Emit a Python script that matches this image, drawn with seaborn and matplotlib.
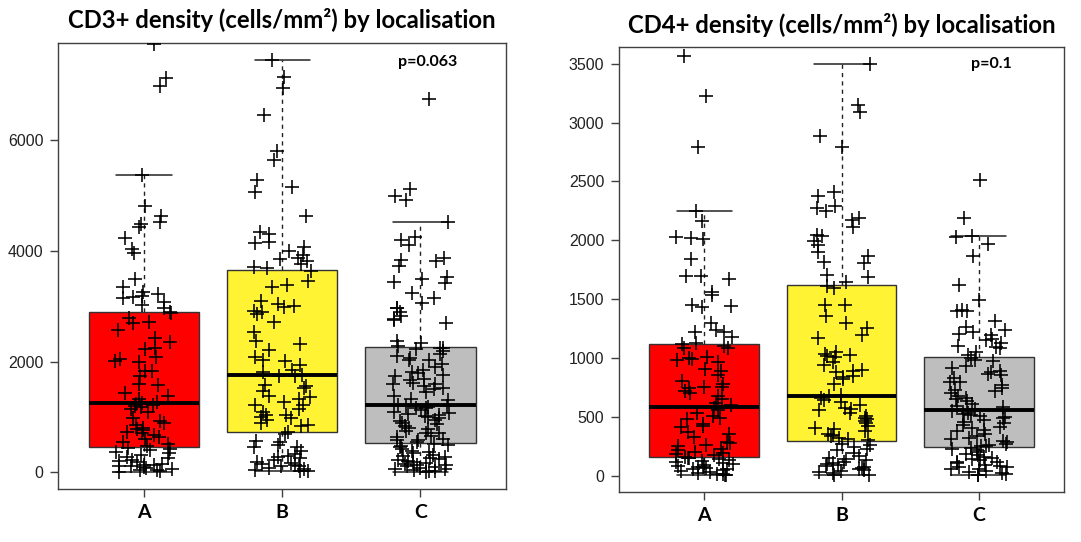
import numpy as np
import pandas as pd
import matplotlib
matplotlib.use("Agg")
import matplotlib.pyplot as plt
import seaborn as sns
from matplotlib import font_manager as fm

# ---------------- data ----------------
categories = ["A", "B", "C"]
box_colors = ["#FF0000", "#FFF333", "#BEBEBE"]

cd3_A = [15, 23, 40, 52, 65, 81, 99, 110, 122, 130, 139, 157, 180, 200, 226, 255, 285, 310, 343, 372, 400, 420, 445,
         470, 505, 546, 600, 633, 680, 703, 737, 761, 778, 807, 850, 894, 923, 981, 1086, 1150, 1184, 1202, 1213, 1230, 1255,
         1265, 1330, 1376, 1434, 1573, 1591, 1736, 1823, 1823, 1997, 2009, 2055, 2084, 2230, 2247, 2346, 2433, 2578, 2694, 2723, 2781, 2868,
         2900, 2960, 3013, 3080, 3141, 3170, 3187, 3216, 3250, 3350, 3489, 3954, 4029, 4233, 4436, 4476, 4511, 4627, 4813, 5371, 6973, 7124, 7740]
cd3_B = [21, 30, 39, 62, 78, 107, 120, 136, 150, 165, 194, 223, 252, 281, 300, 339, 385, 455, 466, 501, 541, 570, 700,
         730, 831, 860, 889, 947, 988, 1005, 1034, 1034, 1092, 1150, 1208, 1208, 1266, 1324, 1353, 1370, 1469, 1527, 1556, 1585, 1740, 1745,
         1759, 1817, 1846, 1933, 2003, 2020, 2078, 2206, 2310, 2368, 2542, 2716, 2861, 2890, 2919, 2977, 3006, 3035, 3093, 3342, 3383, 3458,
         3632, 3690, 3702, 3760, 3818, 3850, 3865, 3923, 3992, 4061, 4137, 4154, 4300, 4339, 4628, 5063, 5150, 5277, 5642, 5799, 6448, 6946, 7132, 7445]
cd3_C = [507, 472, 431, 391, 345, 298, 275, 240, 217, 183, 159, 142, 113, 84, 67, 44, 27, 9,
         20, 55, 95, 130, 170, 200, 260, 320, 370, 450, 500,
         1200, 1166, 1154, 1096, 1067, 1027, 992, 951, 893, 807, 749, 703, 634, 605, 576,
         550, 590, 660, 720, 780, 840, 870, 920, 980, 1010, 1050, 1120, 1180, 1200,
         2241, 2224, 2195, 2137, 2108, 2021, 2021, 1894, 1848, 1790, 1761, 1732, 1686, 1674, 1588, 1588, 1559, 1530, 1455, 1328, 1299,
         1225, 1380, 1500, 1620, 1820, 1950, 2060, 2250,
         6735, 5116, 4983, 4925, 4526, 4249, 4191, 4104, 3873, 3826, 3815, 3728, 3526, 3497, 3439, 3410, 3236, 3149, 3063,
         2976, 2976, 2901, 2820, 2762, 2745, 2704, 2369, 2340, 2282]

cd4_A = [156, 142, 134, 124, 115, 102, 88, 80, 69, 61, 48, 34, 26, 15, 7, 5, 20, 40, 55, 75, 95, 110, 150,
         576, 535, 494, 481, 440, 413, 373, 359, 332, 292, 264, 250, 232, 216, 197, 189, 178, 160, 200, 280, 420, 510, 560,
         1118, 1104, 1083, 1083, 1010, 996, 969, 982, 909, 893, 861, 807, 780, 747, 753, 758, 725, 676, 657, 617, 600, 700, 1000,
         3565, 3227, 2790, 2248, 2161, 2018, 2026, 2012, 1842, 1701, 1674, 1701, 1538, 1560, 1452, 1435, 1443, 1226, 1240, 1226, 1131, 1180, 1300]
cd4_B = [275, 248, 221, 194, 153, 131, 120, 104, 93, 77, 58, 39, 22, 11, 5, 30, 50, 70, 85, 110, 140, 170, 230, 260,
         675, 648, 629, 575, 567, 561, 533, 506, 493, 485, 452, 425, 411, 384, 357, 338, 322, 303, 310, 350, 400, 470, 600, 660,
         1616, 1594, 1453, 1453, 1355, 1301, 1254, 1200, 1172, 1036, 1050, 1023, 1009, 1017, 968, 941, 900, 887, 881, 846, 838, 819, 778, 690,
         3493, 3150, 3090, 2886, 2791, 2410, 2377, 2288, 2274, 2253, 2193, 2171, 2117, 2044, 2035, 1996, 1961, 1899, 1866, 1806, 1812, 1708, 1689, 1648]
cd4_C = [235, 216, 189, 162, 148, 134, 121, 107, 94, 80, 72, 61, 45, 34, 17, 6, 10, 25, 55, 88, 115, 140, 175, 200, 225,
         535, 516, 501, 488, 474, 446, 419, 406, 379, 352, 324, 311, 289, 270, 251, 250, 265, 300, 340, 390, 430, 460, 510, 530, 550,
         1005, 977, 936, 887, 882, 868, 855, 833, 801, 768, 746, 733, 724, 705, 678, 651, 637, 610, 583, 569, 590, 660, 800, 920, 980,
         2514, 2188, 2033, 2025, 1970, 1867, 1622, 1494, 1412, 1404, 1404, 1317, 1263, 1236, 1222, 1208, 1195, 1159, 1127, 1105, 1094, 1086, 1024, 1050, 1150]

titles = ["CD3+ density (cells/mm\u00b2) by localisation", "CD4+ density (cells/mm\u00b2) by localisation"]
p_labels = ["p=0.063", "p=0.1"]
yticks_cd3 = [0, 2000, 4000, 6000]
yticks_cd4 = [0, 500, 1000, 1500, 2000, 2500, 3000, 3500]

# ---------------- style ----------------
sns.set_theme(style="ticks")
plt.rcParams["font.family"] = ["Lato", "DejaVu Sans"]
avail = {f.name for f in fm.fontManager.ttflist}
if "Liberation Sans Narrow" in avail:
    num_font, num_size = "Liberation Sans Narrow", 12
else:
    num_font, num_size = "Liberation Sans", 11.5

W, H = 1081, 542
fig = plt.figure(figsize=(W / 100, H / 100), dpi=100)
fig.patch.set_facecolor("white")
ax1 = fig.add_axes([58.3 / W, (H - 489.3) / H, 447.7 / W, 446.6 / H])
ax2 = fig.add_axes([619 / W, (H - 492.3) / H, 445 / W, 445 / H])

frame = "#404040"
np.random.seed(7)


def panel(ax, groups, ylim, yticks, title, ptxt, pxy, title_base_px, title_width_px):
    df = pd.DataFrame({
        "loc": np.repeat(categories, [len(g) for g in groups]),
        "val": np.concatenate([np.asarray(g, float) for g in groups]),
    })
    sns.boxplot(data=df, x="loc", y="val", hue="loc", order=categories, hue_order=categories,
                palette=box_colors, saturation=1, width=0.8, whis=1.5, showfliers=False,
                linecolor="#333333", linewidth=1, legend=False, ax=ax,
                medianprops=dict(color="black", linewidth=2.8),
                whiskerprops=dict(color="#222222", linestyle=(0, (3, 3)), linewidth=1),
                capprops=dict(color="#222222", linewidth=1.1))
    sns.stripplot(data=df, x="loc", y="val", order=categories, color="black", marker="+",
                  size=10, linewidth=1.15, jitter=0.21, ax=ax, zorder=4)
    ax.set_xlim(-0.62, 2.62)
    ax.set_ylim(*ylim)
    ax.set_yticks(yticks)
    ax.set_yticklabels([str(t) for t in yticks], fontfamily=num_font, fontsize=num_size, color="#222222")
    ax.set_xticks(range(len(categories)))
    ax.set_xticklabels(categories, fontfamily="Lato", fontweight="bold", fontsize=14, color="black")
    ax.set_xlabel("")
    ax.set_ylabel("")
    for s in ax.spines.values():
        s.set_visible(True)
        s.set_color(frame)
        s.set_linewidth(1)
    ax.tick_params(axis="both", which="both", direction="out", length=5.5, width=1, color=frame,
                   top=False, right=False)
    ax.tick_params(axis="x", pad=5)
    ax.tick_params(axis="y", pad=5)
    ax.set_facecolor("white")
    ax.text(pxy[0], pxy[1], ptxt, ha="center", va="center", fontsize=11.5, fontweight="bold",
            fontfamily="Lato", color="black", zorder=6)
    # title, fitted to its width in the reference
    bbox = ax.get_position()
    cx = (bbox.x0 + bbox.x1) / 2
    t = fig.text(cx, 1 - title_base_px / H, title, ha="center", va="baseline",
                 fontsize=16, fontweight="bold", fontfamily="Lato", color="black")
    fig.canvas.draw()
    w = t.get_window_extent().width
    t.set_fontsize(16 * title_width_px / w)


panel(ax1, [cd3_A, cd3_B, cd3_C], (-305, 7755), yticks_cd3, titles[0], p_labels[0], (2.055, 7409), 28.3, 429)
panel(ax2, [cd4_A, cd4_B, cd4_C], (-139, 3639), yticks_cd4, titles[1], p_labels[1], (2.09, 3500), 33.3, 429)

fig.savefig("out.png", dpi=100, facecolor="white")
